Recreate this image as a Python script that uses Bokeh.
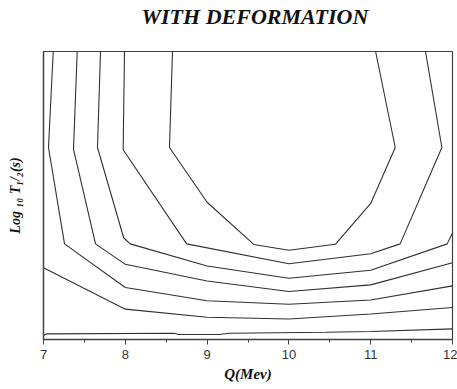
from bokeh.plotting import figure
from bokeh.models import Range1d, FixedTicker, Title
from bokeh.embed import file_html
from bokeh.resources import INLINE

# Contour lines (Q in MeV, log10 T1/2 in arbitrary plot units)
c1_q = [8.577, 8.54, 9.0, 9.57, 10.0, 10.57, 11.0, 11.30, 11.06]
c1_t = [3.0, 2.0, 1.43, 0.99, 0.93, 0.993, 1.417, 2.0, 3.0]

c2_q = [7.99, 7.974, 8.75, 10.0, 11.0, 11.36, 11.87, 11.67]
c2_t = [3.0, 1.976, 0.996, 0.789, 0.893, 0.996, 2.0, 3.0]

c3_q = [7.697, 7.66, 7.98, 8.06, 9.0, 10.0, 11.0, 11.935, 12.0]
c3_t = [3.0, 2.0, 1.06, 0.996, 0.766, 0.638, 0.721, 0.996, 1.11]

c4_q = [7.412, 7.367, 7.636, 8.0, 9.0, 10.0, 11.0, 12.0]
c4_t = [3.0, 1.98, 0.996, 0.783, 0.61, 0.50, 0.569, 0.80]

c5_q = [7.119, 7.061, 7.257, 8.0, 9.0, 10.0, 11.0, 12.0]
c5_t = [3.0, 2.0, 0.996, 0.541, 0.403, 0.367, 0.411, 0.559]

c6_q = [7.0, 8.0, 9.0, 10.0, 11.0, 12.0]
c6_t = [0.748, 0.316, 0.231, 0.214, 0.266, 0.334]

c7_q = [7.0, 7.04, 8.6, 8.65, 9.15, 9.27, 10.45, 11.0, 12.0]
c7_t = [0.041, 0.059, 0.065, 0.052, 0.052, 0.065, 0.076, 0.083, 0.111]

contours_q = [c1_q, c2_q, c3_q, c4_q, c5_q, c6_q, c7_q]
contours_t = [c1_t, c2_t, c3_t, c4_t, c5_t, c6_t, c7_t]

x_ticks = [7, 8, 9, 10, 11, 12]
x_minor = [7.5, 8.5, 9.5, 10.5, 11.5]

title_text = "WITH DEFORMATION"
x_label = "Q(Mev)"
y_label = "Log \u2081\u2080 T\u2081/\u2082(s)"

p = figure(width=457, height=389, output_backend="svg", toolbar_location=None,
           x_range=Range1d(7, 12), y_range=Range1d(0, 3.0),
           min_border_left=43, min_border_right=5, min_border_top=49,
           min_border_bottom=50)
p.title = None

# spacer panel next to the frame, then the real title above it
spacer = Title(text=" ", text_font_size="1px", standoff=19)
p.add_layout(spacer, "above")
main_title = Title(text=title_text, align="left", offset=98, standoff=2,
                   text_font="Liberation Serif", text_font_style="bold italic",
                   text_font_size="22px", text_color="#111111")
p.add_layout(main_title, "above")

p.background_fill_color = "white"
p.border_fill_color = "white"
p.grid.visible = False
p.outline_line_color = "#404040"
p.outline_line_width = 1.2

p.multi_line(contours_q, contours_t, line_color="#303030", line_width=1.1)

# x axis
xa = p.xaxis[0]
xa.ticker = FixedTicker(ticks=x_ticks, minor_ticks=x_minor)
xa.axis_line_color = "#404040"
xa.axis_line_width = 1.3
xa.major_tick_line_color = "#404040"
xa.minor_tick_line_color = "#404040"
xa.major_tick_out = 5
xa.major_tick_in = 0
xa.minor_tick_out = 3
xa.minor_tick_in = 0
xa.major_label_text_font = "Liberation Sans"
xa.major_label_text_font_size = "13px"
xa.major_label_text_color = "#333333"
xa.major_label_standoff = 5
xa.axis_label = x_label
xa.axis_label_text_font = "Liberation Serif"
xa.axis_label_text_font_style = "bold italic"
xa.axis_label_text_font_size = "15px"
xa.axis_label_text_color = "#111111"
xa.axis_label_standoff = 4

# y axis
ya = p.yaxis[0]
ya.ticker = FixedTicker(ticks=[])
ya.axis_line_color = "#404040"
ya.axis_line_width = 1.3
ya.major_tick_line_color = None
ya.minor_tick_line_color = None
ya.axis_label = y_label
ya.axis_label_text_font = "Liberation Serif"
ya.axis_label_text_font_style = "bold italic"
ya.axis_label_text_font_size = "14px"
ya.axis_label_text_color = "#111111"
ya.axis_label_standoff = 21

open("out.html", "w").write(file_html(p, INLINE))
